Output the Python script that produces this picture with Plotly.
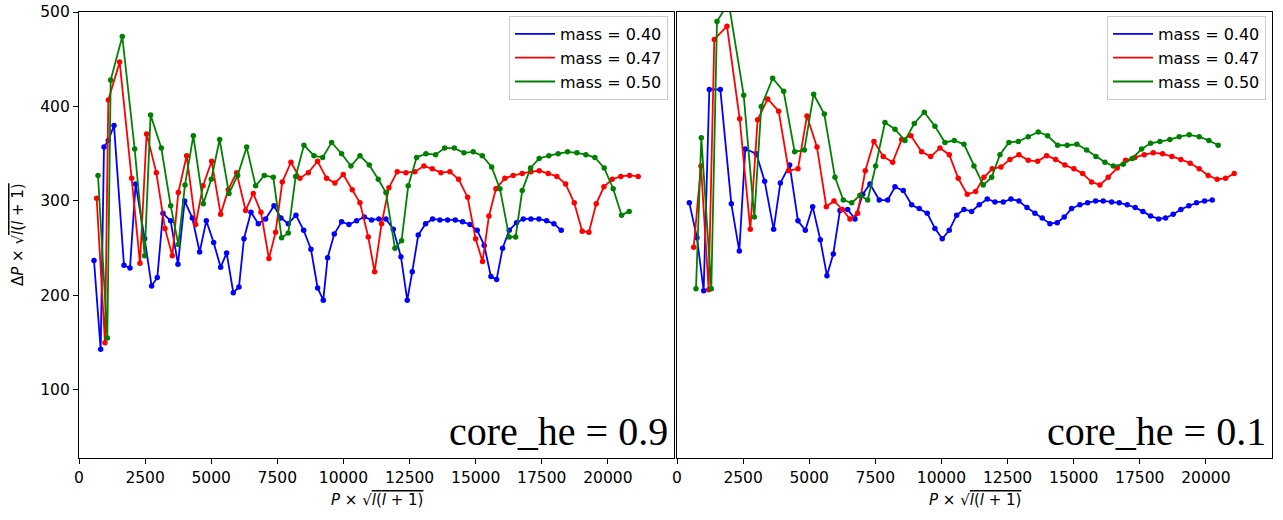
import plotly.graph_objects as go

W, H = 1283, 520

# ---------------- data: left panel (core_he = 0.9) ----------------
l_blue_x = [567, 820, 945, 1109, 1323, 1701, 1928, 2142, 2482, 2747, 2961, 3176, 3466, 3743, 3995, 4285, 4562, 4814, 5091, 5356, 5583, 5835, 6049, 6238, 6503, 6780, 7057, 7372, 7637, 7913, 8204, 8495, 8771, 9023, 9237, 9401, 9653, 9930, 10208, 10498, 10787, 11064, 11342, 11607, 11884, 12174, 12413, 12602, 12829, 13107, 13371, 13648, 13939, 14228, 14506, 14783, 15059, 15324, 15577, 15792, 16019, 16269, 16547, 16801, 17089, 17391, 17682, 17958, 18235]
l_blue_y = [237, 143, 357, 364, 380, 232, 229, 318, 260, 210, 219, 287, 279, 233, 300, 282, 246, 279, 256, 230, 245, 203, 209, 260, 288, 276, 281, 295, 282, 276, 285, 269, 249, 208, 195, 240, 265, 278, 275, 279, 283, 280, 281, 281, 270, 241, 195, 225, 264, 276, 281, 280, 280, 280, 278, 275, 269, 253, 220, 217, 250, 269, 277, 281, 281, 281, 279, 276, 269]

l_red_x = [668, 983, 1109, 1538, 1991, 2306, 2558, 2924, 3251, 3529, 3756, 4071, 4411, 4688, 5016, 5356, 5645, 5960, 6300, 6591, 6881, 7183, 7435, 7687, 8015, 8355, 8670, 9023, 9363, 9679, 9992, 10333, 10624, 10938, 11177, 11443, 11720, 12034, 12363, 12703, 13043, 13358, 13686, 14026, 14354, 14695, 14997, 15259, 15501, 15766, 16106, 16421, 16761, 17089, 17403, 17743, 18072, 18400, 18727, 19029, 19282, 19558, 19849, 20164, 20491, 20820, 21146]
l_red_y = [303, 150, 407, 447, 324, 234, 371, 330, 271, 242, 309, 348, 275, 316, 342, 286, 312, 330, 290, 308, 288, 239, 267, 320, 341, 324, 330, 342, 324, 319, 328, 312, 298, 262, 225, 276, 314, 331, 330, 331, 337, 334, 330, 331, 323, 304, 260, 236, 284, 313, 324, 327, 329, 331, 332, 329, 326, 318, 298, 268, 267, 297, 315, 323, 326, 327, 326]

l_green_x = [718, 1070, 1198, 1637, 2105, 2482, 2707, 3112, 3466, 3756, 4008, 4323, 4700, 5002, 5318, 5671, 6000, 6340, 6680, 7006, 7347, 7662, 7913, 8193, 8507, 8885, 9213, 9553, 9930, 10283, 10624, 10976, 11316, 11607, 11947, 12198, 12450, 12767, 13119, 13486, 13826, 14190, 14556, 14907, 15248, 15603, 15917, 16269, 16510, 16761, 17076, 17403, 17769, 18121, 18476, 18828, 19168, 19509, 19860, 20200, 20517, 20805]
l_green_y = [327, 155, 428, 474, 355, 242, 391, 356, 295, 254, 317, 369, 297, 323, 365, 308, 327, 357, 316, 327, 325, 261, 266, 326, 359, 348, 346, 362, 350, 337, 348, 338, 323, 309, 250, 258, 316, 346, 350, 349, 356, 356, 351, 352, 348, 336, 313, 262, 262, 311, 335, 345, 348, 350, 352, 351, 349, 346, 335, 313, 285, 289]

# ---------------- data: right panel (core_he = 0.1) ----------------
r_blue_x = [466, 756, 1008, 1222, 1638, 2054, 2356, 2583, 2999, 3314, 3654, 3907, 4260, 4575, 4852, 5130, 5419, 5670, 5910, 6163, 6454, 6730, 7020, 7297, 7648, 7966, 8242, 8556, 8873, 9161, 9463, 9754, 10030, 10295, 10575, 10851, 11142, 11430, 11732, 12023, 12337, 12628, 12930, 13233, 13535, 13811, 14102, 14378, 14643, 14922, 15236, 15527, 15830, 16117, 16435, 16722, 17025, 17327, 17618, 17909, 18212, 18476, 18764, 19055, 19357, 19648, 19950, 20238]
r_blue_y = [298, 261, 205, 418, 418, 297, 247, 355, 350, 321, 270, 319, 338, 279, 269, 294, 259, 221, 244, 290, 291, 281, 307, 318, 301, 301, 315, 311, 296, 292, 287, 271, 260, 269, 285, 291, 289, 296, 302, 299, 299, 302, 300, 293, 287, 282, 276, 277, 283, 292, 296, 298, 300, 300, 299, 298, 296, 293, 289, 284, 281, 282, 286, 291, 295, 298, 300, 301]

r_red_x = [630, 907, 1197, 1411, 1890, 2370, 2772, 3050, 3429, 3844, 4223, 4575, 4915, 5293, 5646, 5936, 6250, 6541, 6832, 7119, 7448, 7800, 8155, 8496, 8847, 9252, 9592, 9943, 10295, 10635, 10976, 11293, 11607, 11921, 12250, 12590, 12930, 13283, 13637, 13977, 14318, 14669, 15009, 15338, 15678, 15992, 16306, 16647, 16965, 17316, 17668, 18008, 18363, 18715, 19055, 19406, 19747, 20087, 20427, 20745, 21070]
r_red_y = [251, 337, 206, 471, 485, 387, 270, 386, 408, 395, 332, 334, 390, 357, 294, 300, 291, 281, 287, 332, 363, 347, 341, 365, 369, 352, 347, 356, 349, 324, 307, 310, 325, 334, 336, 344, 349, 343, 342, 348, 344, 338, 334, 329, 320, 317, 325, 335, 343, 346, 349, 351, 350, 347, 344, 340, 334, 327, 323, 324, 329]

r_green_x = [718, 919, 1297, 1512, 1953, 2522, 2924, 3188, 3617, 4033, 4449, 4814, 5167, 5570, 5974, 6288, 6605, 6919, 7210, 7511, 7864, 8242, 8620, 8973, 9350, 9754, 10132, 10484, 10851, 11229, 11580, 11898, 12212, 12552, 12905, 13283, 13660, 14015, 14393, 14756, 15123, 15490, 15841, 16181, 16500, 16875, 17214, 17569, 17909, 18261, 18639, 18991, 19369, 19747, 20113, 20465]
r_green_y = [207, 367, 207, 490, 510, 412, 283, 400, 430, 416, 352, 354, 413, 392, 325, 301, 298, 306, 301, 337, 383, 376, 364, 382, 394, 379, 362, 364, 360, 337, 317, 325, 349, 362, 363, 368, 373, 369, 359, 359, 360, 354, 347, 341, 337, 339, 345, 355, 361, 363, 365, 368, 370, 368, 364, 359]

series_names = ["mass = 0.40", "mass = 0.47", "mass = 0.50"]
series_colors = ["#0000ff", "#ff0000", "#008000"]
x_ticks = [0, 2500, 5000, 7500, 10000, 12500, 15000, 17500, 20000]
x_tick_labels = ["0", "2500", "5000", "7500", "10000", "12500", "15000", "17500", "20000"]
y_ticks = [100, 200, 300, 400, 500]
y_tick_labels = ["100", "200", "300", "400", "500"]
panel_labels = ["core_he = 0.9", "core_he = 0.1"]

# ---------------- layout geometry (pixels) ----------------
L0, L1 = 79, 674
R0, R1 = 677, 1272
T, B = 12, 458

def px(v):
    return v / W

def py(v):
    return 1 - v / H

fig = go.Figure()

panels = [
    ("x", "y", [(l_blue_x, l_blue_y), (l_red_x, l_red_y), (l_green_x, l_green_y)], "legend"),
    ("x2", "y2", [(r_blue_x, r_blue_y), (r_red_x, r_red_y), (r_green_x, r_green_y)], "legend2"),
]

for xa, ya, data, leg in panels:
    for (xs, ys), name, col in zip(data, series_names, series_colors):
        fig.add_trace(go.Scatter(
            x=xs, y=ys, mode="lines+markers", xaxis=xa, yaxis=ya,
            line=dict(color=col, width=1.8), marker=dict(color=col, size=5.5),
            showlegend=False, hoverinfo="skip", cliponaxis=True))
    for name, col in zip(series_names, series_colors):
        fig.add_trace(go.Scatter(
            x=[None], y=[None], mode="lines", xaxis=xa, yaxis=ya,
            line=dict(color=col, width=1.8), name=name, legend=leg))

tickfont = dict(family="DejaVu Sans", size=15.5, color="black")
axis_common = dict(
    range=[0, 22500], tickvals=x_ticks, ticktext=x_tick_labels, ticks="outside", ticklen=5, tickwidth=1,
    tickcolor="black", showline=True, linecolor="black", linewidth=1.2, mirror=True,
    showgrid=False, zeroline=False, tickfont=tickfont, automargin=False)
yaxis_common = dict(
    range=[28, 500], tickvals=y_ticks, ticktext=y_tick_labels, showline=True, linecolor="black", linewidth=1.2,
    mirror=True, showgrid=False, zeroline=False, tickfont=tickfont, automargin=False)

legend_common = dict(
    bgcolor="rgba(255,255,255,0.85)", bordercolor="#cccccc", borderwidth=1,
    font=dict(family="DejaVu Sans", size=16, color="black"),
    xanchor="right", yanchor="top", tracegroupgap=0, itemwidth=40)

fig.update_layout(
    width=W, height=H, margin=dict(l=0, r=0, t=0, b=0, autoexpand=False),
    paper_bgcolor="white", plot_bgcolor="white",
    xaxis=dict(domain=[px(L0), px(L1)], anchor="y", **axis_common),
    yaxis=dict(domain=[py(B), py(T)], anchor="x", ticks="outside", ticklen=5, tickcolor="black", **yaxis_common),
    xaxis2=dict(domain=[px(R0), px(R1)], anchor="y2", **axis_common),
    yaxis2=dict(domain=[py(B), py(T)], anchor="x2", showticklabels=False, ticks="", **yaxis_common),
    legend=dict(x=px(L1 - 6), y=py(T + 4), **legend_common),
    legend2=dict(x=px(R1 - 6), y=py(T + 4), **legend_common),
    showlegend=True,
)

xtitle = "<i>P</i> × √<span style='text-decoration:overline'><i>l</i>(<i>l</i> + 1)</span>"
ytitle = "Δ<i>P</i> × √<span style='text-decoration:overline'><i>l</i>(<i>l</i> + 1)</span>"
annots = [
    dict(text=xtitle, x=px((L0 + L1) / 2), y=py(500), xref="paper", yref="paper",
         xanchor="center", yanchor="middle", showarrow=False,
         font=dict(family="DejaVu Sans", size=15, color="black")),
    dict(text=xtitle, x=px((R0 + R1) / 2), y=py(500), xref="paper", yref="paper",
         xanchor="center", yanchor="middle", showarrow=False,
         font=dict(family="DejaVu Sans", size=15, color="black")),
    dict(text=ytitle, x=px(18), y=py(235), xref="paper", yref="paper", textangle=-90,
         xanchor="center", yanchor="middle", showarrow=False,
         font=dict(family="DejaVu Sans", size=15, color="black")),
    dict(text=panel_labels[0], x=px(L1 - 4), y=py(B - 2), xref="paper", yref="paper",
         xanchor="right", yanchor="bottom", showarrow=False,
         font=dict(family="Liberation Serif", size=40, color="black")),
    dict(text=panel_labels[1], x=px(R1 - 4), y=py(B - 2), xref="paper", yref="paper",
         xanchor="right", yanchor="bottom", showarrow=False,
         font=dict(family="Liberation Serif", size=40, color="black")),
]
fig.update_layout(annotations=annots)

fig.write_html("out.html")
